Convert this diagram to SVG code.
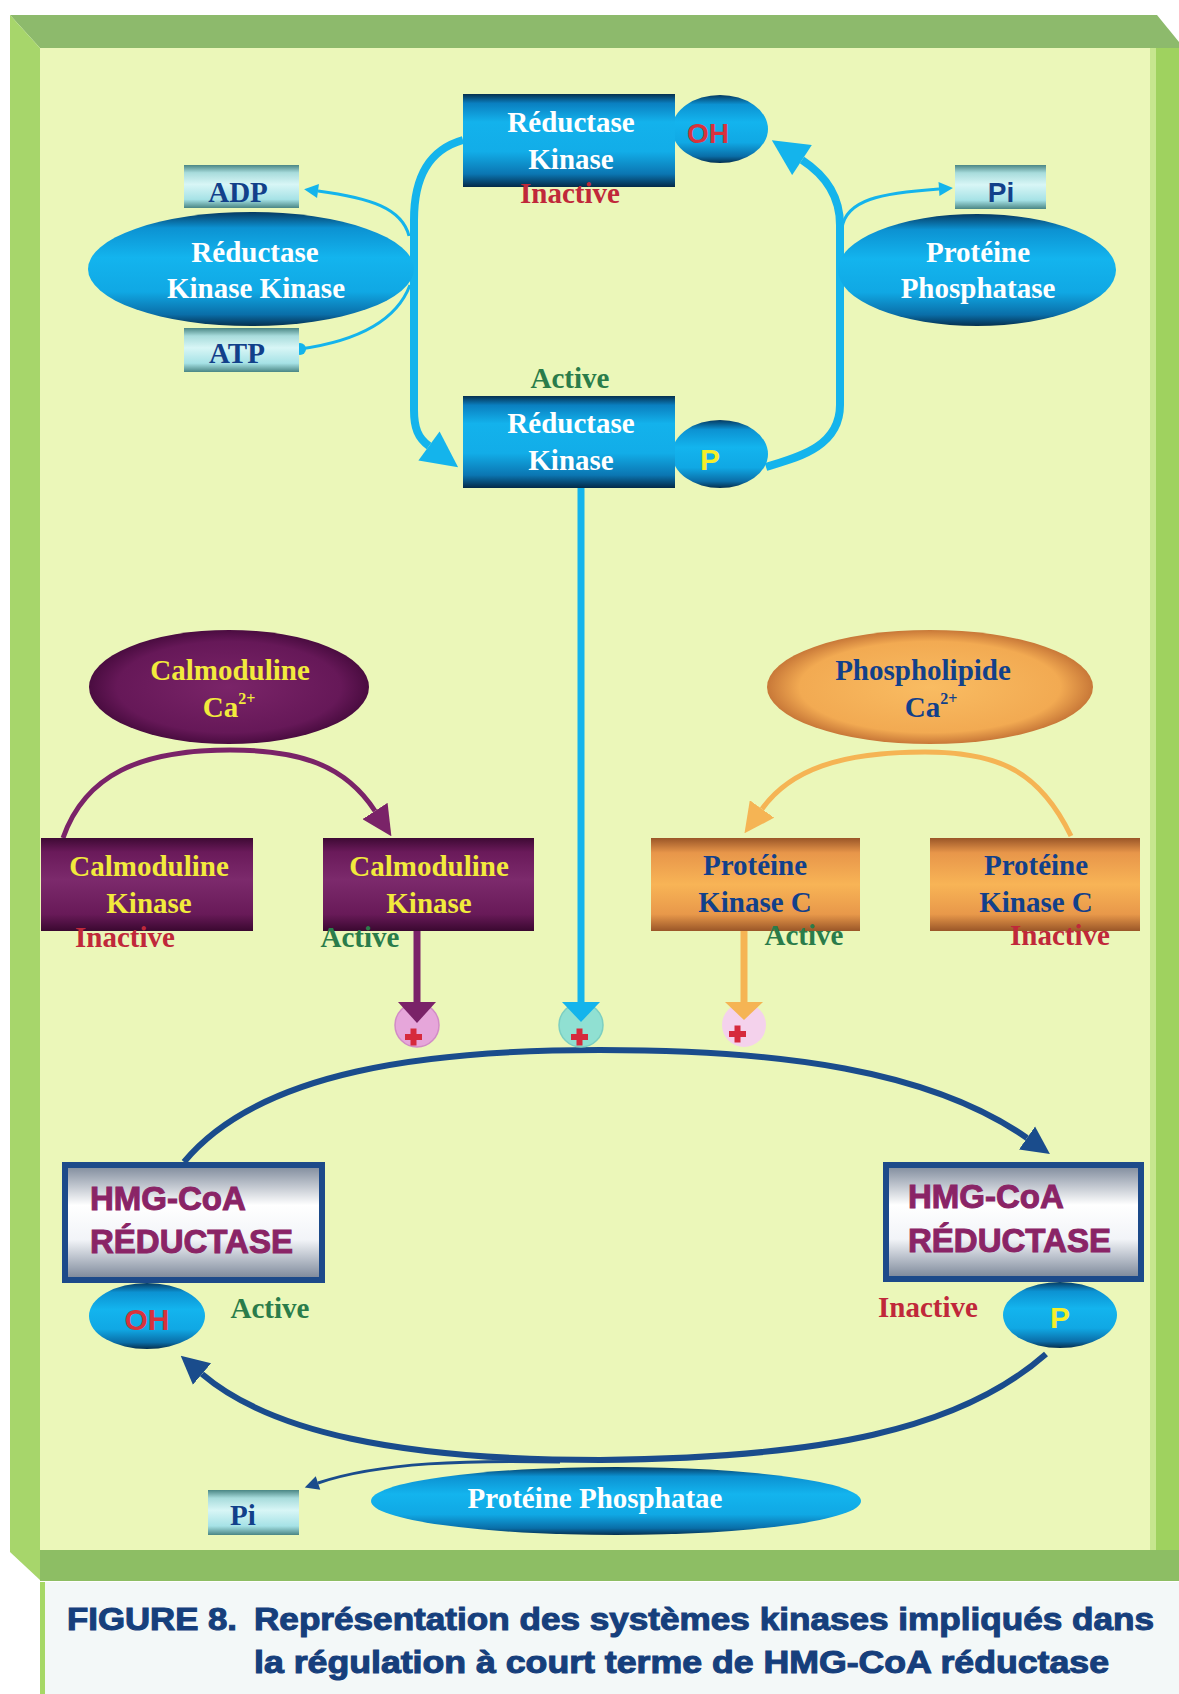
<svg xmlns="http://www.w3.org/2000/svg" width="1179" height="1694" viewBox="0 0 1179 1694">
<defs>
<linearGradient id="gCyan" x1="0" y1="0" x2="0" y2="1">
<stop offset="0" stop-color="#05304f"/><stop offset="0.1" stop-color="#0a7fc0"/><stop offset="0.3" stop-color="#13b2ec"/><stop offset="0.62" stop-color="#12ade8"/><stop offset="0.86" stop-color="#0b76b2"/><stop offset="1" stop-color="#042a48"/>
</linearGradient>
<linearGradient id="gCyanEll" x1="0" y1="0" x2="0" y2="1">
<stop offset="0" stop-color="#063a62"/><stop offset="0.14" stop-color="#0c92d2"/><stop offset="0.4" stop-color="#13b4ee"/><stop offset="0.7" stop-color="#10a8e4"/><stop offset="0.9" stop-color="#0a6ea8"/><stop offset="1" stop-color="#05304f"/>
</linearGradient>
<linearGradient id="gTeal" x1="0" y1="0" x2="0" y2="1">
<stop offset="0" stop-color="#4a8684"/><stop offset="0.18" stop-color="#a8dcdc"/><stop offset="0.45" stop-color="#d8f6f6"/><stop offset="0.8" stop-color="#a6e2e6"/><stop offset="1" stop-color="#4a8684"/>
</linearGradient>
<linearGradient id="gPurple" x1="0" y1="0" x2="0" y2="1">
<stop offset="0" stop-color="#3e0a34"/><stop offset="0.15" stop-color="#6a1a5a"/><stop offset="0.45" stop-color="#7c2a6c"/><stop offset="0.82" stop-color="#681a58"/><stop offset="1" stop-color="#3a0830"/>
</linearGradient>
<radialGradient id="gPurpleEll" cx="0.5" cy="0.5" r="0.5">
<stop offset="0" stop-color="#7a2468"/><stop offset="0.8" stop-color="#661858"/><stop offset="1" stop-color="#4a0c40"/>
</radialGradient>
<linearGradient id="gOrange" x1="0" y1="0" x2="0" y2="1">
<stop offset="0" stop-color="#9a5628"/><stop offset="0.16" stop-color="#e8964a"/><stop offset="0.5" stop-color="#f8b456"/><stop offset="0.82" stop-color="#e8984a"/><stop offset="1" stop-color="#9a5628"/>
</linearGradient>
<radialGradient id="gOrangeEll" cx="0.5" cy="0.5" r="0.5">
<stop offset="0" stop-color="#f9bc62"/><stop offset="0.8" stop-color="#f2aa52"/><stop offset="1" stop-color="#c87838"/>
</radialGradient>
<linearGradient id="gHmg" x1="0" y1="0" x2="0" y2="1">
<stop offset="0" stop-color="#7c889a"/><stop offset="0.35" stop-color="#ffffff"/><stop offset="0.65" stop-color="#f2f4f8"/><stop offset="1" stop-color="#788496"/>
</linearGradient>
<marker id="mCyanBig" viewBox="0 0 10 10" refX="0" refY="5" markerUnits="userSpaceOnUse" markerWidth="38" markerHeight="36" orient="auto"><path d="M0,0 L10,5 L0,10 z" fill="#14b4ec"/></marker>
<marker id="mCyanSm" viewBox="0 0 10 10" refX="0" refY="5" markerUnits="userSpaceOnUse" markerWidth="16" markerHeight="14" orient="auto"><path d="M0,0 L10,5 L0,10 z" fill="#14b4ec"/></marker>
<marker id="mPurple" viewBox="0 0 10 10" refX="0" refY="5" markerUnits="userSpaceOnUse" markerWidth="30" markerHeight="30" orient="auto"><path d="M0,0 L10,5 L0,10 z" fill="#7a2368"/></marker>
<marker id="mOrange" viewBox="0 0 10 10" refX="0" refY="5" markerUnits="userSpaceOnUse" markerWidth="30" markerHeight="30" orient="auto"><path d="M0,0 L10,5 L0,10 z" fill="#f5b454"/></marker>
<marker id="mNavy" viewBox="0 0 10 10" refX="0" refY="5" markerUnits="userSpaceOnUse" markerWidth="28" markerHeight="30" orient="auto"><path d="M0,0 L10,5 L0,10 z" fill="#1a4c8c"/></marker>
<marker id="mNavySm" viewBox="0 0 10 10" refX="0" refY="5" markerUnits="userSpaceOnUse" markerWidth="16" markerHeight="14" orient="auto"><path d="M0,0 L10,5 L0,10 z" fill="#1a4c8c"/></marker>
<style>
.sf{font-family:"Liberation Serif","Times New Roman",serif;font-weight:bold;font-size:29px;text-anchor:middle}
.ss{font-family:"Liberation Sans",Arial,sans-serif;font-weight:bold;text-anchor:middle}
.w{fill:#ffffff}.y{fill:#f2ea3c}.n{fill:#12408a}.ina{fill:#c0283a}.act{fill:#2a7c4a}
.hmg{font-family:"Liberation Sans",Arial,sans-serif;font-weight:bold;font-size:33px;fill:#8a2466;stroke:#8a2466;stroke-width:1}
.cap{font-family:"Liberation Sans",Arial,sans-serif;font-weight:bold;font-size:32px;fill:#163f7c;stroke:#163f7c;stroke-width:1.1}
.cy{fill:none;stroke:#14b4ec}
.nv{fill:none;stroke:#1a4c8c}
.plus{fill:#d62a3c}
</style>
</defs>

<!-- frame -->
<rect x="0" y="0" width="1179" height="1694" fill="#ffffff"/>
<rect x="40" y="48" width="1112" height="1502" fill="#ebf7b9"/>
<polygon points="10,15 1157,15 1179,42 1179,48 40,48" fill="#8dba6c"/>
<polygon points="10,15 40,48 40,1580 10,1552" fill="#a7d66b"/>
<rect x="1150" y="48" width="29" height="1502" fill="#9fd25f"/>
<rect x="1150" y="48" width="6" height="1502" fill="#c6e68e"/>
<rect x="40" y="1550" width="1139" height="31" fill="#8dbe64"/>
<rect x="40" y="1582" width="1139" height="112" fill="#f3f8f8"/>
<rect x="40" y="1582" width="5" height="112" fill="#a6d866"/>

<!-- connectors -->
<g id="connectors">
<path class="cy" stroke-width="8" d="M463,140 C428,150 414,178 414,220 L414,410 C414,428 418,438 429,446" marker-end="url(#mCyanBig)"/>
<path class="cy" stroke-width="8" d="M766,467 C795,458 840,448 840,405 L840,225 C840,195 825,175 802,160" marker-end="url(#mCyanBig)"/>
<path class="cy" stroke-width="3" d="M409,236 C402,208 370,198 318,191" marker-end="url(#mCyanSm)"/>
<path class="cy" stroke-width="3" d="M300,349 C350,342 395,325 410,285"/>
<circle cx="300" cy="349" r="6" fill="#14b4ec"/>
<path class="cy" stroke-width="3" d="M842,228 C846,200 880,193 939,189" marker-end="url(#mCyanSm)"/>
<path fill="none" stroke="#7a2368" stroke-width="5" d="M63,838 C85,775 140,750 230,750 C300,750 345,765 375,811" marker-end="url(#mPurple)"/>
<path fill="none" stroke="#f5b454" stroke-width="5" d="M1071,836 C1040,772 1000,752 925,752 C840,752 790,770 762,809" marker-end="url(#mOrange)"/>
<path class="nv" stroke-width="6" d="M184,1162 C260,1070 430,1050 600,1050 C780,1050 930,1070 1027,1138" marker-end="url(#mNavy)"/>
<path class="nv" stroke-width="6" d="M1046,1354 C960,1430 820,1458 600,1460 C400,1460 270,1432 202,1374" marker-end="url(#mNavy)"/>
<path class="nv" stroke-width="3" d="M560,1462 C470,1460 380,1462 318,1483" marker-end="url(#mNavySm)"/>
</g>

<!-- activation circles -->
<g id="plus-calmoduline">
<circle cx="417" cy="1025" r="22" fill="#e6a6da" stroke="#d28cc6" stroke-width="1.5"/>
<line x1="417" y1="931" x2="417" y2="1003" stroke="#7a2368" stroke-width="7"/>
<polygon points="398,1002 436,1002 417,1023" fill="#7a2368"/>
<rect x="405" y="1034" width="17" height="6" class="plus"/><rect x="410.5" y="1028.5" width="6" height="17" class="plus"/>
</g>
<g id="plus-reductase-kinase">
<circle cx="581" cy="1025" r="22" fill="#90e0d2" stroke="#7ccfc2" stroke-width="1.5"/>
<line x1="581" y1="488" x2="581" y2="1003" stroke="#14b4ec" stroke-width="7"/>
<polygon points="562,1002 600,1002 581,1022" fill="#14b4ec"/>
<rect x="571" y="1034" width="17" height="6" class="plus"/><rect x="576.5" y="1028.5" width="6" height="17" class="plus"/>
</g>
<g id="plus-pkc">
<circle cx="744" cy="1025" r="22" fill="#f4d2ec"/>
<line x1="744" y1="931" x2="744" y2="1003" stroke="#f5b454" stroke-width="7"/>
<polygon points="725,1002 763,1002 744,1020" fill="#f5b454"/>
<rect x="729" y="1031" width="17" height="6" class="plus"/><rect x="734.5" y="1025.5" width="6" height="17" class="plus"/>
</g>

<!-- top section -->
<g id="reductase-kinase-inactive">
<ellipse cx="720" cy="129" rx="48" ry="34" fill="url(#gCyanEll)"/>
<rect x="463" y="94" width="212" height="93" fill="url(#gCyan)"/>
<text class="sf w" x="571" y="132">Réductase</text>
<text class="sf w" x="571" y="169">Kinase</text>
<text class="ss" x="708" y="143" font-size="28" fill="#d8323c">OH</text>
<text class="sf ina" x="570" y="203">Inactive</text>
</g>
<g id="reductase-kinase-active">
<ellipse cx="720" cy="454" rx="48" ry="34" fill="url(#gCyanEll)"/>
<rect x="463" y="396" width="212" height="92" fill="url(#gCyan)"/>
<text class="sf act" x="570" y="388">Active</text>
<text class="sf w" x="571" y="433">Réductase</text>
<text class="sf w" x="571" y="470">Kinase</text>
<text class="ss" x="710" y="470" font-size="30" fill="#f5ee2a">P</text>
</g>
<g id="reductase-kinase-kinase">
<ellipse cx="251" cy="269" rx="163" ry="57" fill="url(#gCyanEll)"/>
<text class="sf w" x="255" y="262">Réductase</text>
<text class="sf w" x="256" y="298">Kinase Kinase</text>
</g>
<g id="adp">
<rect x="184" y="165" width="115" height="43" fill="url(#gTeal)"/>
<text class="sf n" x="238" y="202" font-size="28">ADP</text>
</g>
<g id="atp">
<rect x="184" y="328" width="115" height="44" fill="url(#gTeal)"/>
<text class="sf n" x="237" y="363" font-size="28">ATP</text>
</g>
<g id="proteine-phosphatase-top">
<ellipse cx="977" cy="270" rx="139" ry="56" fill="url(#gCyanEll)"/>
<text class="sf w" x="978" y="262">Protéine</text>
<text class="sf w" x="978" y="298">Phosphatase</text>
</g>
<g id="pi-top">
<rect x="955" y="165" width="91" height="44" fill="url(#gTeal)"/>
<text class="ss n" x="1001" y="202" font-size="28">Pi</text>
</g>

<!-- calmoduline -->
<g id="calmoduline-ca">
<ellipse cx="229" cy="687" rx="140" ry="57" fill="url(#gPurpleEll)"/>
<text class="sf y" x="230" y="680">Calmoduline</text>
<text class="sf y" x="229" y="717">Ca<tspan dy="-13" font-size="16">2+</tspan></text>
</g>
<g id="calmoduline-kinase-inactive">
<rect x="41" y="838" width="212" height="93" fill="url(#gPurple)"/>
<text class="sf y" x="149" y="876">Calmoduline</text>
<text class="sf y" x="149" y="913">Kinase</text>
<text class="sf ina" x="125" y="947">Inactive</text>
</g>
<g id="calmoduline-kinase-active">
<rect x="323" y="838" width="211" height="93" fill="url(#gPurple)"/>
<text class="sf y" x="429" y="876">Calmoduline</text>
<text class="sf y" x="429" y="913">Kinase</text>
<text class="sf act" x="360" y="947">Active</text>
</g>

<!-- phospholipide -->
<g id="phospholipide-ca">
<ellipse cx="930" cy="687" rx="163" ry="57" fill="url(#gOrangeEll)"/>
<text class="sf n" x="923" y="680">Phospholipide</text>
<text class="sf n" x="931" y="717">Ca<tspan dy="-13" font-size="16">2+</tspan></text>
</g>
<g id="pkc-active">
<rect x="651" y="838" width="209" height="93" fill="url(#gOrange)"/>
<text class="sf n" x="755" y="875">Protéine</text>
<text class="sf n" x="755" y="912">Kinase C</text>
<text class="sf act" x="804" y="945">Active</text>
</g>
<g id="pkc-inactive">
<rect x="930" y="838" width="210" height="93" fill="url(#gOrange)"/>
<text class="sf n" x="1036" y="875">Protéine</text>
<text class="sf n" x="1036" y="912">Kinase C</text>
<text class="sf ina" x="1060" y="945">Inactive</text>
</g>

<!-- HMG-CoA -->
<g id="hmg-active">
<ellipse cx="147" cy="1316" rx="58" ry="33" fill="url(#gCyanEll)"/>
<rect x="65" y="1165" width="257" height="115" fill="url(#gHmg)" stroke="#1c4a8a" stroke-width="6"/>
<text class="hmg" x="90" y="1210">HMG-CoA</text>
<text class="hmg" x="90" y="1253">RÉDUCTASE</text>
<text class="ss" x="147" y="1330" font-size="30" fill="#d8323c">OH</text>
<text class="sf act" x="270" y="1318">Active</text>
</g>
<g id="hmg-inactive">
<ellipse cx="1060" cy="1315" rx="57" ry="33" fill="url(#gCyanEll)"/>
<rect x="886" y="1165" width="255" height="114" fill="url(#gHmg)" stroke="#1c4a8a" stroke-width="6"/>
<text class="hmg" x="908" y="1208">HMG-CoA</text>
<text class="hmg" x="908" y="1252">RÉDUCTASE</text>
<text class="ss" x="1060" y="1328" font-size="30" fill="#f5ee2a">P</text>
<text class="sf ina" x="928" y="1317">Inactive</text>
</g>
<g id="proteine-phosphatae">
<ellipse cx="616" cy="1501" rx="245" ry="34" fill="url(#gCyanEll)"/>
<text class="sf w" x="595" y="1508">Protéine Phosphatae</text>
</g>
<g id="pi-bottom">
<rect x="208" y="1490" width="91" height="45" fill="url(#gTeal)"/>
<text class="sf n" x="243" y="1525" font-size="28">Pi</text>
</g>

<!-- caption -->
<g id="caption">
<text class="cap" x="67" y="1630" textLength="170" lengthAdjust="spacingAndGlyphs">FIGURE 8.</text>
<text class="cap" x="254" y="1630" textLength="900" lengthAdjust="spacingAndGlyphs">Représentation des systèmes kinases impliqués dans</text>
<text class="cap" x="254" y="1673" textLength="855" lengthAdjust="spacingAndGlyphs">la régulation à court terme de HMG-CoA réductase</text>
</g>
</svg>
